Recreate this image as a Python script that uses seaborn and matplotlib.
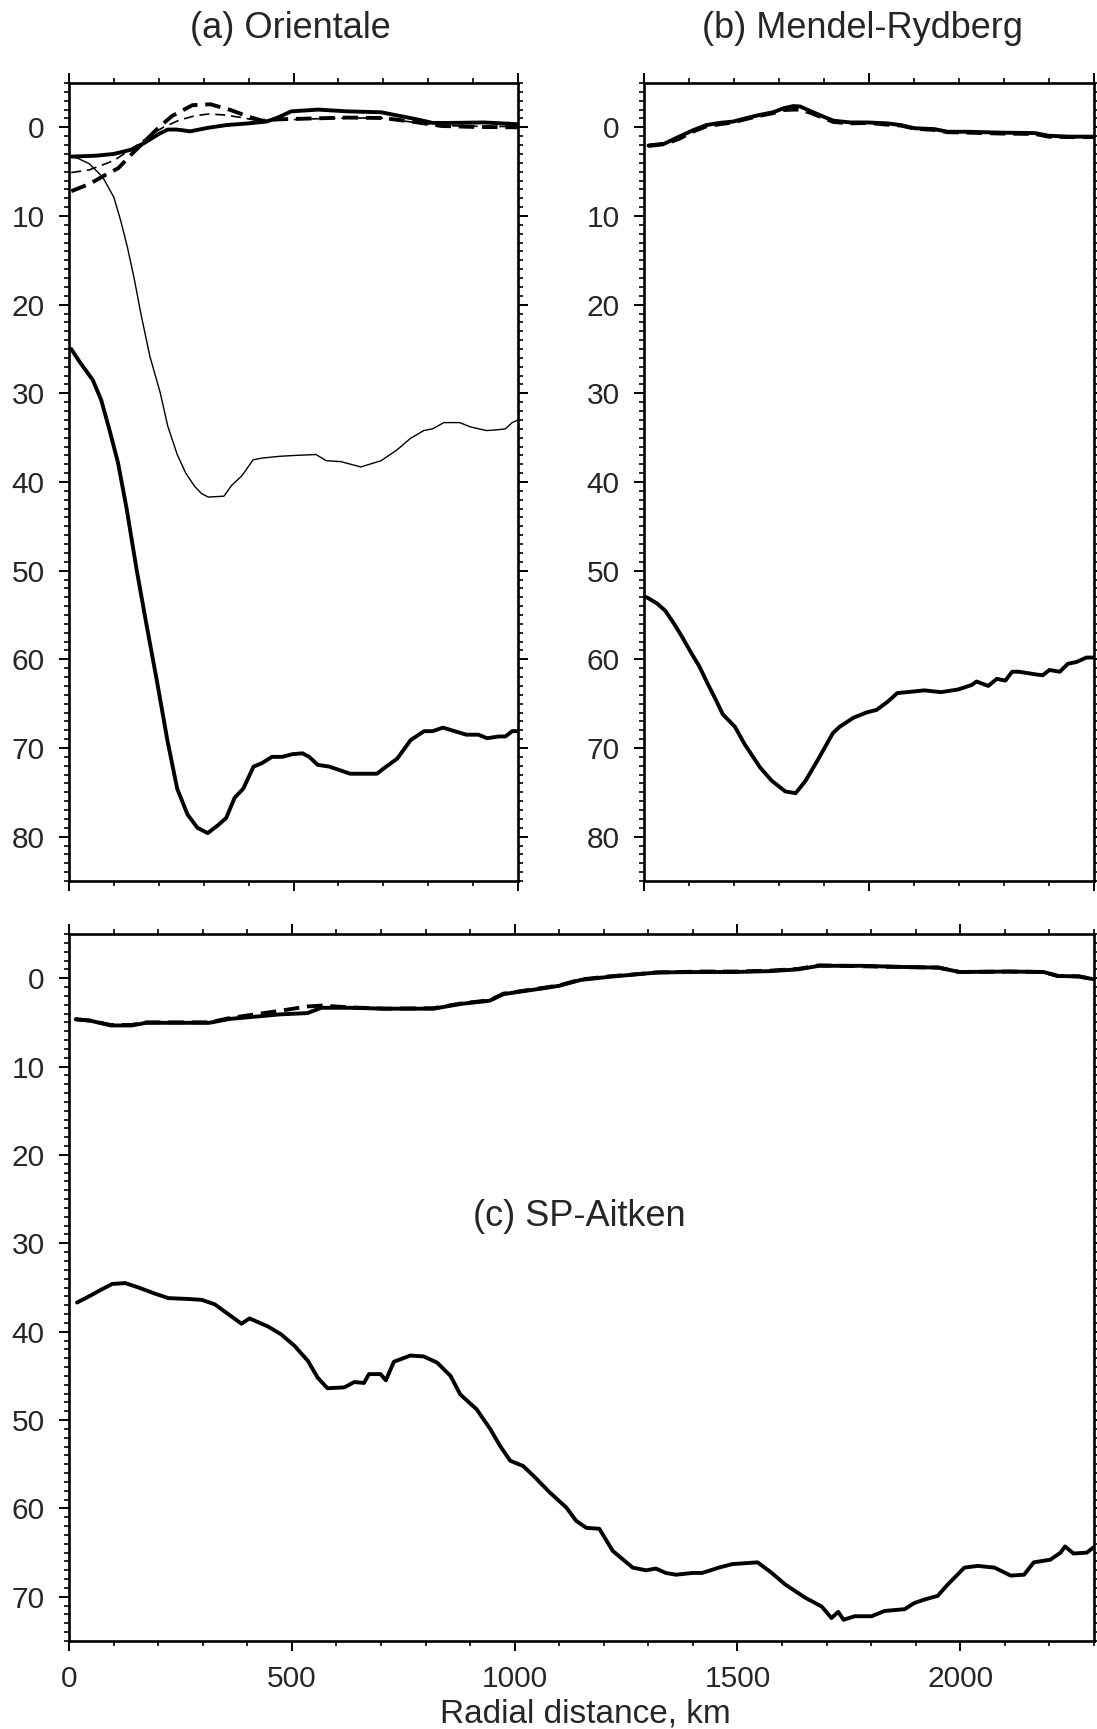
import numpy as np
import pandas as pd
import matplotlib
matplotlib.use("Agg")
import matplotlib.pyplot as plt
from matplotlib.ticker import MultipleLocator
import seaborn as sns

# ---------------- data (radial distance in km, depth in km) ----------------
# (a) Orientale
ori_top_x = [5, 60, 100, 140, 170, 200, 220, 240, 270, 310, 350, 400, 440, 465, 495,
             555, 620, 695, 735, 770, 810, 850, 925, 1000]
ori_top_y = [3.3, 3.2, 3.0, 2.5, 1.7, 0.75, 0.25, 0.25, 0.45, 0.05, -0.25, -0.45, -0.65,
             -1.1, -1.8, -2.0, -1.8, -1.7, -1.3, -0.95, -0.5, -0.5, -0.55, -0.35]

ori_dash_thick_x = [5, 45, 80, 110, 140, 170, 200, 230, 275, 315, 360, 400, 430, 465,
                    540, 620, 700, 770, 830, 900, 1000]
ori_dash_thick_y = [7.2, 6.4, 5.4, 4.6, 3.0, 1.5, 0.0, -1.3, -2.5, -2.6, -1.95, -1.2,
                    -0.75, -0.9, -1.0, -1.1, -1.05, -0.6, -0.15, -0.05, 0.0]

ori_dash_thin_x = [5, 45, 100, 155, 185, 210, 245, 280, 310, 345, 385, 415, 465, 540,
                   620, 695, 770, 835, 925, 1000]
ori_dash_thin_y = [5.1, 4.8, 3.75, 1.9, 0.75, 0.0, -0.8, -1.3, -1.5, -1.4, -1.1, -0.8,
                   -0.8, -0.95, -1.05, -1.05, -0.55, -0.2, -0.1, -0.1]

ori_thin_x = [5, 20, 45, 75, 100, 115, 130, 145, 160, 180, 203, 220, 241, 260, 280, 295,
              310, 345, 362, 385, 410, 430, 470, 505, 550, 573, 605, 650, 695, 730, 760,
              790, 810, 835, 870, 895, 930, 957, 972, 987, 1000]
ori_thin_y = [3.3, 3.5, 4.1, 5.6, 7.9, 10.5, 13.5, 17.0, 21.0, 25.8, 29.9, 33.7, 36.9,
              39.0, 40.5, 41.3, 41.7, 41.6, 40.4, 39.3, 37.5, 37.3, 37.1, 37.0, 36.9,
              37.6, 37.7, 38.3, 37.6, 36.4, 35.1, 34.2, 34.0, 33.3, 33.3, 33.8, 34.2,
              34.1, 34.0, 33.3, 33.0]

ori_deep_x = [5, 23, 53, 72, 90, 109, 128, 151, 173, 196, 219, 241, 264, 286, 309, 332,
              350, 369, 388, 411, 430, 452, 475, 497, 520, 535, 554, 580, 626, 686, 701,
              731, 761, 791, 810, 833, 852, 885, 912, 931, 957, 972, 987, 1000]
ori_deep_y = [25.0, 26.4, 28.5, 30.8, 34.1, 37.8, 42.9, 50.0, 56.2, 62.5, 69.1, 74.6,
              77.5, 79.0, 79.6, 78.7, 77.9, 75.6, 74.6, 72.1, 71.7, 71.0, 71.0, 70.7,
              70.6, 71.0, 71.9, 72.1, 72.9, 72.9, 72.3, 71.2, 69.1, 68.1, 68.1, 67.7,
              68.0, 68.5, 68.5, 68.9, 68.7, 68.7, 68.1, 68.1]

# (b) Mendel-Rydberg
mr_top_x = [10, 45, 78, 108, 138, 168, 198, 228, 257, 287, 310, 332, 347, 369, 399, 421,
            459, 496, 541, 571, 601, 645, 675, 720, 794, 869, 899, 944, 1000]
mr_top_y = [2.05, 1.85, 1.05, 0.35, -0.25, -0.5, -0.65, -1.05, -1.4, -1.7, -2.15, -2.4,
            -2.35, -1.85, -1.2, -0.75, -0.55, -0.55, -0.45, -0.25, 0.1, 0.2, 0.5, 0.5,
            0.6, 0.65, 0.95, 1.05, 1.05]
mr_dash_y = [2.1, 1.9, 1.3, 0.5, -0.1, -0.35, -0.55, -0.95, -1.3, -1.6, -1.95, -2.0,
             -2.0, -1.65, -1.05, -0.6, -0.45, -0.5, -0.3, -0.2, 0.15, 0.3, 0.55, 0.6,
             0.7, 0.75, 1.05, 1.1, 1.1]

mr_deep_x = [6, 29, 47, 67, 85, 104, 123, 141, 160, 175, 202, 224, 258, 284, 314, 337,
             359, 389, 420, 435, 465, 494, 517, 541, 563, 585, 623, 660, 698, 728, 739,
             765, 784, 803, 818, 833, 871, 886, 901, 924, 942, 961, 983, 998]
mr_deep_y = [53.0, 53.7, 54.5, 56.0, 57.5, 59.2, 60.8, 62.7, 64.6, 66.2, 67.6, 69.6,
             72.2, 73.7, 74.9, 75.1, 73.7, 71.1, 68.3, 67.6, 66.6, 66.0, 65.7, 64.8,
             63.8, 63.7, 63.5, 63.7, 63.4, 62.9, 62.5, 63.0, 62.2, 62.4, 61.4, 61.4,
             61.7, 61.8, 61.2, 61.4, 60.5, 60.3, 59.8, 59.8]

# (c) SP-Aitken
spa_top_x = [15, 47, 94, 140, 173, 315, 362, 430, 472, 535, 566, 629, 708, 818, 881, 944,
             975, 1070, 1101, 1148, 1211, 1321, 1416, 1495, 1573, 1636, 1683, 1778, 1888,
             1951, 1998, 2109, 2187, 2219, 2266, 2297]
spa_top_y = [4.65, 4.8, 5.35, 5.35, 5.05, 5.05, 4.6, 4.3, 4.1, 3.95, 3.35, 3.35, 3.45,
             3.45, 2.9, 2.55, 1.8, 1.1, 0.85, 0.2, -0.15, -0.65, -0.7, -0.7, -0.8, -1.0,
             -1.4, -1.4, -1.25, -1.2, -0.7, -0.75, -0.7, -0.25, -0.2, 0.1]
spa_dash_y = [4.65, 4.8, 5.3, 5.3, 5.0, 5.0, 4.5, 4.0, 3.7, 3.2, 3.1, 3.3, 3.45,
              3.4, 2.85, 2.5, 1.75, 1.05, 0.8, 0.15, -0.2, -0.65, -0.75, -0.75, -0.85,
              -1.05, -1.45, -1.35, -1.25, -1.2, -0.7, -0.75, -0.7, -0.25, -0.2, 0.1]

spa_deep_x = [18, 45, 74, 97, 126, 156, 193, 223, 268, 298, 327, 357, 387, 405, 446, 476,
              506, 536, 558, 580, 618, 640, 662, 673, 699, 711, 729, 766, 796, 826, 856,
              878, 915, 945, 967, 990, 1019, 1042, 1079, 1116, 1138, 1161, 1190, 1220,
              1265, 1295, 1317, 1339, 1362, 1399, 1421, 1458, 1488, 1545, 1577, 1607,
              1652, 1689, 1711, 1726, 1738, 1763, 1801, 1830, 1875, 1897, 1920, 1949,
              1972, 2009, 2039, 2077, 2113, 2143, 2165, 2202, 2225, 2235, 2254, 2284, 2299]
spa_deep_y = [36.7, 36.0, 35.2, 34.6, 34.5, 35.0, 35.7, 36.2, 36.3, 36.4, 36.9, 38.0,
              39.1, 38.5, 39.4, 40.3, 41.6, 43.3, 45.2, 46.4, 46.3, 45.7, 45.8, 44.8,
              44.8, 45.5, 43.4, 42.7, 42.8, 43.5, 45.0, 47.1, 48.8, 51.0, 52.9, 54.6,
              55.2, 56.3, 58.2, 59.9, 61.4, 62.2, 62.3, 64.8, 66.7, 67.0, 66.8, 67.3,
              67.5, 67.3, 67.3, 66.7, 66.3, 66.1, 67.3, 68.6, 70.1, 71.1, 72.4, 71.7,
              72.6, 72.2, 72.2, 71.6, 71.4, 70.7, 70.3, 69.9, 68.6, 66.7, 66.5, 66.7,
              67.6, 67.5, 66.1, 65.8, 65.0, 64.3, 65.1, 65.0, 64.4]

# ---------------- style ----------------
sns.set_theme(style="ticks")
plt.rcParams["font.family"] = ["Liberation Sans", "DejaVu Sans"]
plt.rcParams["axes.linewidth"] = 1.9
plt.rcParams["lines.solid_joinstyle"] = "round"
plt.rcParams["lines.solid_capstyle"] = "round"

THICK = 2.8
THIN = 1.0

fig = plt.figure(figsize=(10.97, 17.29), dpi=100)
W, H = 1097.0, 1729.0
ax_a = fig.add_axes([69 / W, 1 - 881 / H, 449 / W, 798 / H])
ax_b = fig.add_axes([644 / W, 1 - 881 / H, 450 / W, 798 / H])
ax_c = fig.add_axes([69 / W, 1 - 1641 / H, 1025 / W, 707 / H])


def curve(ax, x, y, lw, dashes=None):
    kws = dict(color="black", linewidth=lw, estimator=None, sort=False, ax=ax)
    if dashes is not None:
        kws["linestyle"] = (0, dashes)
    sns.lineplot(x=x, y=y, **kws)


# (a) Orientale
curve(ax_a, ori_dash_thin_x, ori_dash_thin_y, 1.2, (6, 3.5))
curve(ax_a, ori_dash_thick_x, ori_dash_thick_y, THICK, (4, 2))
curve(ax_a, ori_top_x, ori_top_y, THICK)
curve(ax_a, ori_thin_x, ori_thin_y, THIN)
curve(ax_a, ori_deep_x, ori_deep_y, THICK)

# (b) Mendel-Rydberg
curve(ax_b, mr_top_x, mr_dash_y, THICK, (4, 2))
curve(ax_b, mr_top_x, mr_top_y, THICK)
curve(ax_b, mr_deep_x, mr_deep_y, THICK)

# (c) SP-Aitken
curve(ax_c, spa_top_x, spa_dash_y, THICK, (4, 2))
curve(ax_c, spa_top_x, spa_top_y, THICK)
curve(ax_c, spa_deep_x, spa_deep_y, THICK)

FS_TICK = 21.5
for ax, xmax, ymax in [(ax_a, 1000, 85), (ax_b, 1000, 85), (ax_c, 2300, 75)]:
    ax.set_xlim(0, xmax)
    ax.set_ylim(ymax, -5)
    ax.xaxis.set_major_locator(MultipleLocator(500))
    ax.xaxis.set_minor_locator(MultipleLocator(100))
    ax.yaxis.set_major_locator(MultipleLocator(10))
    ax.yaxis.set_minor_locator(MultipleLocator(1))
    ax.tick_params(which="both", direction="out", top=True, bottom=True, left=True,
                   right=True, labeltop=False, labelright=False, color="black",
                   width=1.4, labelsize=FS_TICK, pad=10)
    ax.tick_params(which="major", length=7.5)
    ax.tick_params(which="minor", length=3.5, width=1.2)
    ax.set_xlabel("")
    ax.set_ylabel("")
    for s in ax.spines.values():
        s.set_color("black")
        s.set_linewidth(1.9)

ax_a.tick_params(labelbottom=False)
ax_b.tick_params(labelbottom=False)
ax_c.tick_params(labelbottom=True)

fig.text(290 / W, 1 - 28 / H, "(a) Orientale", ha="center", va="center", fontsize=26)
fig.text(862 / W, 1 - 28 / H, "(b) Mendel-Rydberg", ha="center", va="center", fontsize=26)
ax_c.text(1145, 27, "(c) SP-Aitken", ha="center", va="center", fontsize=26)
fig.text(585 / W, 1 - 1714 / H, "Radial distance, km", ha="center", va="center",
         fontsize=24)

fig.savefig("out.png", dpi=100, facecolor="white")
